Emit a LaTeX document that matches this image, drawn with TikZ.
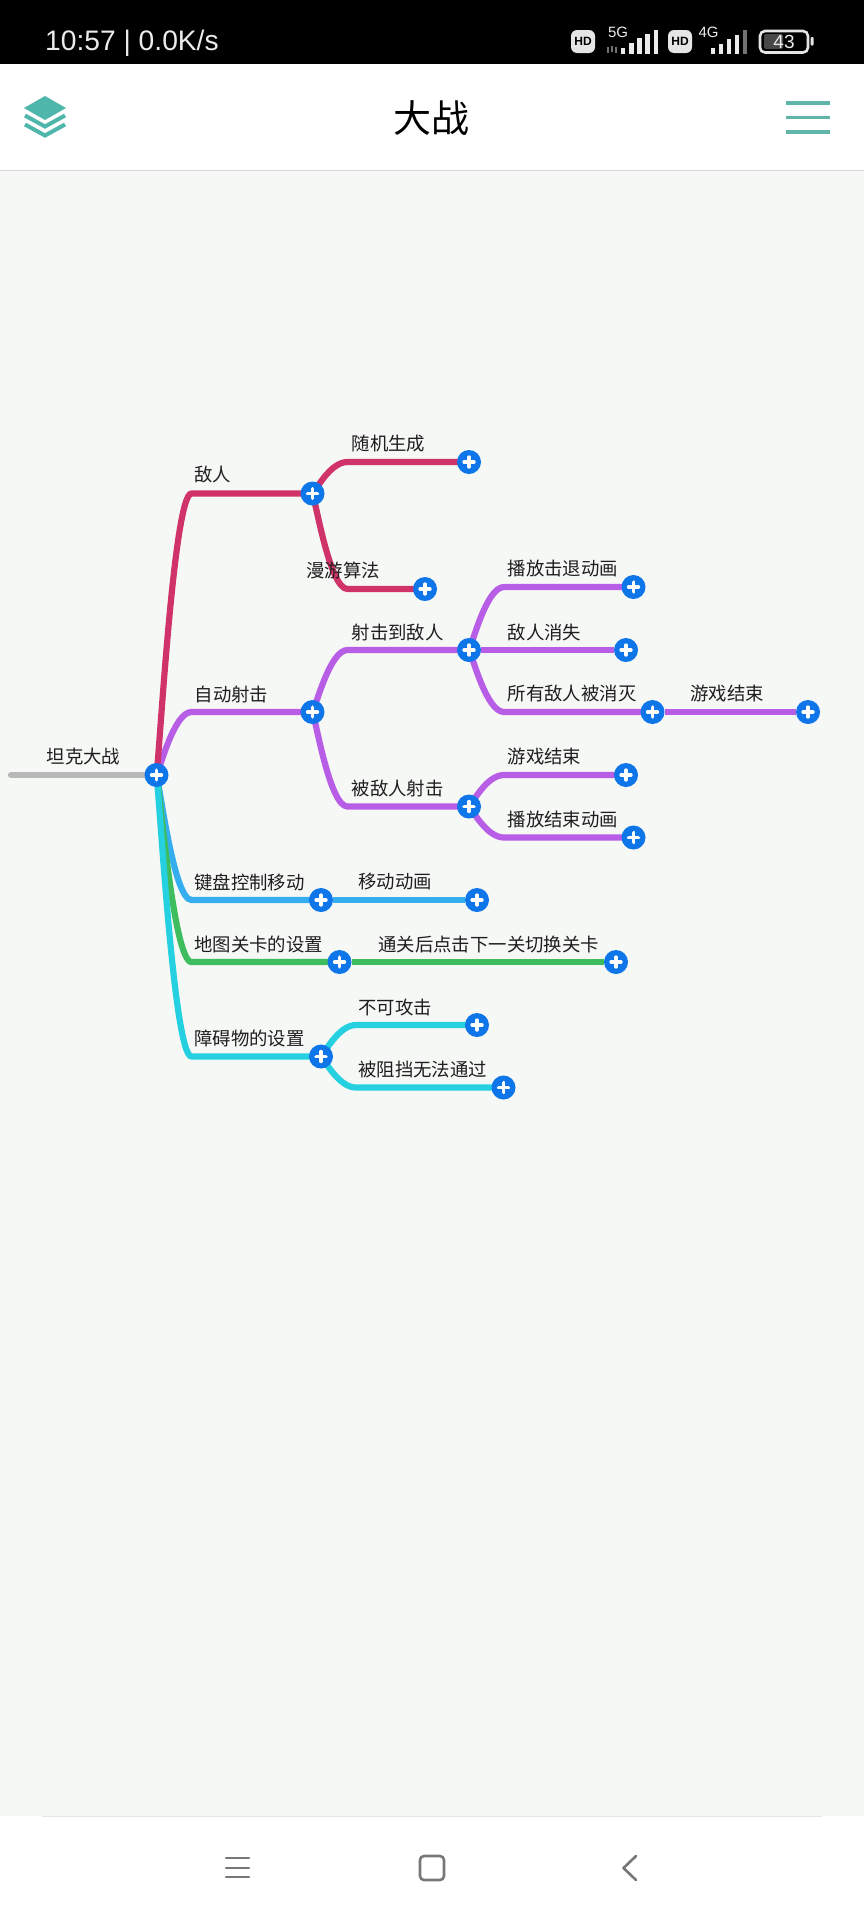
\documentclass[tikz,border=0pt]{standalone}
\usepackage{fontspec}
\setmainfont{Liberation Sans}
\newfontfamily\cjk{Noto Sans CJK SC}
\usetikzlibrary{backgrounds,calc}
\definecolor{cpage}{HTML}{F6F8F6}
\definecolor{cpink}{HTML}{D0336A}
\definecolor{cpurple}{HTML}{B85DE5}
\definecolor{cblue}{HTML}{35AEEF}
\definecolor{cgreen}{HTML}{3DBD5E}
\definecolor{ccyan}{HTML}{25D0E0}
\definecolor{cgray}{HTML}{B8B8B8}
\definecolor{cplus}{HTML}{0F76EA}
\definecolor{cteal}{HTML}{4FB6AB}
\definecolor{cmenu}{HTML}{5FB5A8}
\definecolor{cnav}{HTML}{777777}
\definecolor{ctext}{HTML}{1E1E1E}
\tikzset{
  x=1pt,y=-1pt,
  plusdot/.style={circle,fill=cplus,minimum size=24pt,inner sep=0pt,
    path picture={\draw[white,line width=3.8pt,line cap=round]
      ([xshift=-4.8pt]path picture bounding box.center)--([xshift=4.8pt]path picture bounding box.center)
      ([yshift=-4.8pt]path picture bounding box.center)--([yshift=4.8pt]path picture bounding box.center);}},
  lab/.style={anchor=west,inner sep=0pt,text=ctext,font=\cjk\fontsize{18.4pt}{18.4pt}\selectfont},
  conn/.style={line width=6.2pt},
  statustext/.style={inner sep=0pt,text=white!92!black},
  navicon/.style={cnav,line width=2.6pt,line cap=round,line join=round},
  sigbar/.style={white!92!black,line width=4.4pt},
  dimbar/.style={black!55,line width=4.4pt},
}
\newcommand{\branch}[3]{%
  \draw[conn,#3,line cap=round] let \p1=(#1.center),\p2=(#2.center) in
    (\p1) .. controls ({\x1+3.5pt},{\y1+0.1*(\y2-\y1)}) and ({\x1+17.5pt},\y2) .. ({\x1+35pt},\y2) -- (\p2);}
\begin{document}
\begin{tikzpicture}
\useasboundingbox (0,0) rectangle (864,1920);
% plus nodes
\node[plusdot] (root) at (156.5,775) {};
\node[plusdot] (enemy) at (312.5,493.5) {};
\node[plusdot] (rand) at (469,462) {};
\node[plusdot] (roam) at (425,589) {};
\node[plusdot] (auto) at (312.5,712) {};
\node[plusdot] (hit) at (469,650) {};
\node[plusdot] (knock) at (633.5,587) {};
\node[plusdot] (vanish) at (626,650) {};
\node[plusdot] (allgone) at (652.5,712) {};
\node[plusdot] (over1) at (808,712) {};
\node[plusdot] (shot) at (469,806.5) {};
\node[plusdot] (over2) at (626,775) {};
\node[plusdot] (endanim) at (633.5,837.5) {};
\node[plusdot] (keys) at (321,900) {};
\node[plusdot] (moveanim) at (477,900) {};
\node[plusdot] (map) at (339.5,962) {};
\node[plusdot] (next) at (616,962) {};
\node[plusdot] (obst) at (321,1056.5) {};
\node[plusdot] (noatk) at (477,1025) {};
\node[plusdot] (block) at (503.5,1087.5) {};
\coordinate (rootstart) at (11,775);
\begin{pgfonlayer}{background}
\fill[cpage] (0,0) rectangle (864,1920);
\fill[black] (0,0) rectangle (864,64);
\fill[white] (0,64) rectangle (864,170);
\fill[white] (0,1816) rectangle (864,1920);
\fill[black!16] (0,170) rectangle (864,171.2);
\fill[black!10] (42,1815.6) rectangle (822,1816.6);
\draw[conn,cgray,line cap=round] (rootstart) -- (root.center);
\branch{root}{auto}{cpurple}
\branch{root}{enemy}{cpink}
\branch{root}{keys}{cblue}
\branch{root}{map}{cgreen}
\branch{root}{obst}{ccyan}
\branch{enemy}{rand}{cpink}
\branch{enemy}{roam}{cpink}
\branch{auto}{hit}{cpurple}
\branch{auto}{shot}{cpurple}
\branch{hit}{knock}{cpurple}
\draw[conn,cpurple] (hit) -- (vanish);
\branch{hit}{allgone}{cpurple}
\draw[conn,cpurple] (allgone) -- (over1);
\branch{shot}{over2}{cpurple}
\branch{shot}{endanim}{cpurple}
\draw[conn,cblue] (keys) -- (moveanim);
\draw[conn,cgreen] (map) -- (next);
\branch{obst}{noatk}{ccyan}
\branch{obst}{block}{ccyan}
\end{pgfonlayer}
% labels
\node[lab] (t0) at (46.5,757) {坦克大战};
\node[lab] (t1) at (194,475) {敌人};
\node[lab] (t2) at (351.5,444) {随机生成};
\node[lab] (t3) at (306,570) {漫游算法};
\node[lab] (t4) at (194.5,694) {自动射击};
\node[lab] (t5) at (351.5,632) {射击到敌人};
\node[lab] (t6) at (507.5,568) {播放击退动画};
\node[lab] (t7) at (507.5,632) {敌人消失};
\node[lab] (t8) at (507.5,694) {所有敌人被消灭};
\node[lab] (t9) at (690,694) {游戏结束};
\node[lab] (t10) at (351.5,788) {被敌人射击};
\node[lab] (t11) at (507.5,757) {游戏结束};
\node[lab] (t12) at (507.5,819) {播放结束动画};
\node[lab] (t13) at (194,882) {键盘控制移动};
\node[lab] (t14) at (358,882) {移动动画};
\node[lab] (t15) at (194,944) {地图关卡的设置};
\node[lab] (t16) at (378,944) {通关后点击下一关切换关卡};
\node[lab] (t17) at (358,1007.5) {不可攻击};
\node[lab] (t18) at (358,1069) {被阻挡无法通过};
\node[lab] (t19) at (194,1038) {障碍物的设置};
% header
\node[inner sep=0pt,text=black,font=\cjk\fontsize{38pt}{38pt}\selectfont] (title) at (431.5,118) {大战};
\fill[cteal] (45,96) -- (66,108) -- (45,120) -- (24,108) -- cycle;
\draw[cteal,line width=4pt] (25,115.5) -- (45,126.5) -- (65,115.5);
\draw[cteal,line width=4pt] (25,124.5) -- (45,135.5) -- (65,124.5);
\draw[cmenu,line width=3.4pt] (786,103) -- (830,103) (786,117.5) -- (830,117.5) (786,132) -- (830,132);
% status bar
\node[statustext,anchor=west,font=\fontsize{28.2pt}{28.2pt}\selectfont] (clock) at (45,43) {10:57 | 0.0K/s};
\fill[white!90!black,rounded corners=6pt] (571,30) rectangle (595,53);
\node[inner sep=0pt,text=black,font=\bfseries\fontsize{12pt}{12pt}\selectfont] (hd1) at (583,41.5) {HD};
\node[statustext,font=\fontsize{15pt}{15pt}\selectfont] (g5) at (618,32.5) {5G};
\draw[black!55,line width=1.6pt] (608,47) -- (608,53) (612,46) -- (612,52) (616,47) -- (616,53);
\draw[sigbar] (622.7,54) -- (622.7,48) (631.3,54) -- (631.3,43) (639.3,54) -- (639.3,38) (647.3,54) -- (647.3,34) (655.7,54) -- (655.7,30);
\fill[white!90!black,rounded corners=6pt] (668,30) rectangle (692,53);
\node[inner sep=0pt,text=black,font=\bfseries\fontsize{12pt}{12pt}\selectfont] (hd2) at (680,41.5) {HD};
\node[statustext,font=\fontsize{15pt}{15pt}\selectfont] (g4) at (708.5,32.5) {4G};
\draw[sigbar] (713,54) -- (713,48) (721,54) -- (721,44) (729,54) -- (729,39) (737,54) -- (737,35);
\draw[dimbar] (745,54) -- (745,30);
\fill[black!72,rounded corners=2pt] (764,34) rectangle (783,49);
\draw[white!90!black,line width=2.6pt,rounded corners=5pt] (760,31) rectangle (808,52.5);
\node[statustext,font=\fontsize{19pt}{19pt}\selectfont] (batt) at (784,42) {43};
\fill[white!90!black,rounded corners=1pt] (810.5,37) rectangle (813.5,45.5);
% navigation bar
\draw[navicon] (226,1858) -- (249,1858) (226,1868) -- (249,1868) (226,1877) -- (249,1877);
\draw[navicon,rounded corners=4pt] (420,1856) rectangle (444,1880);
\draw[navicon] (636,1856) -- (623.5,1868) -- (636,1880);
\end{tikzpicture}
\end{document}
